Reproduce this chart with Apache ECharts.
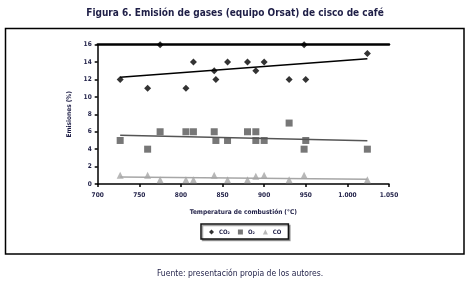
<!DOCTYPE html>
<html>
<head>
<meta charset="utf-8">
<script src="https://cdn.jsdelivr.net/npm/echarts@6/dist/echarts.min.js"></script>
<style>
  html, body { margin: 0; padding: 0; background: #fff; }
  #chart { width: 470px; height: 281px; }
</style>
</head>
<body>
<div id="chart"></div>
<script>
// puntos medidos (temperatura °C, %)
const co2Data = [[727, 12], [760, 11], [775, 16], [806, 11], [815, 14], [840, 13], [842, 12],
  [856, 14], [880, 14], [890, 13], [900, 14], [930, 12], [948, 16], [950, 12], [1024, 15]]
const o2Data = [[727, 5], [760, 4], [775, 6], [806, 6], [815, 6], [840, 6], [842, 5],
  [856, 5], [880, 6], [890, 6], [890, 5], [900, 5], [930, 7], [948, 4], [950, 5], [1024, 4]]
const coData = [[727, 1], [760, 1], [775, 0.5], [806, 0.5], [815, 0.5], [840, 1], [856, 0.5],
  [880, 0.5], [890, 0.9], [900, 1], [930, 0.5], [948, 1], [1024, 0.5]]
// líneas de tendencia (extremos leídos)
const co2Trend = [[727, 12.25], [1024, 14.4]]
const o2Trend = [[727, 5.6], [1024, 4.97]]
const coTrend = [[727, 0.8], [1024, 0.55]]

const xTicks = { 700: '700', 750: '750', 800: '800', 850: '850', 900: '900', 950: '950', 1000: '1.000', 1050: '1.050' }

const font = "'DejaVu Sans Condensed', 'Liberation Sans Narrow', sans-serif"
const ink = '#1e1e46'
const chart = echarts.init(document.getElementById('chart'))

const option = {
  animation: false,
  textStyle: { fontFamily: font },
  title: [
    {
      text: 'Figura 6. Emisión de gases (equipo Orsat) de cisco de café',
      left: 'center',
      top: 3,
      textStyle: { fontFamily: font, fontSize: 10, fontWeight: 'bold', color: ink }
    },
    {
      text: 'Fuente: presentación propia de los autores.',
      left: 235,
      textAlign: 'center',
      top: 264,
      textStyle: { fontFamily: font, fontSize: 8.5, fontWeight: 'normal', color: ink }
    }
  ],
  graphic: [
    {
      type: 'rect',
      shape: { x: 5.5, y: 28.5, width: 458.5, height: 225.5 },
      style: { fill: 'none', stroke: '#000', lineWidth: 1.5 },
      silent: true
    }
  ],
  legend: {
    left: 201,
    top: 224,
    padding: [5, 7, 4, 8],
    itemGap: 8,
    itemWidth: 5,
    itemHeight: 5,
    borderColor: '#111',
    borderWidth: 1.5,
    shadowColor: 'rgba(0,0,0,0.35)',
    shadowOffsetX: 1.5,
    shadowOffsetY: 1.5,
    backgroundColor: '#fff',
    textStyle: { fontFamily: font, fontSize: 6, fontWeight: 'bold', color: ink },
    data: [
      { name: 'CO₂', icon: 'diamond' },
      { name: 'O₂', icon: 'rect' },
      { name: 'CO', icon: 'triangle' }
    ]
  },
  grid: { left: 97.7, right: 81, top: 44.7, bottom: 97 },
  xAxis: [
    {
      type: 'value',
      min: 700,
      max: 1050,
      interval: 50,
      name: 'Temperatura de combustión (°C)',
      nameLocation: 'middle',
      nameGap: 25,
      nameTextStyle: { fontFamily: font, fontSize: 6.5, fontWeight: 'bold', color: ink },
      axisLine: { lineStyle: { color: '#000', width: 1.5 } },
      axisTick: { inside: false, length: 3, lineStyle: { color: '#000', width: 1.5 } },
      axisLabel: {
        margin: 8,
        fontSize: 6.5,
        fontWeight: 'bold',
        color: ink,
        formatter: v => xTicks[v] || ''
      },
      splitLine: { show: false }
    },
    {
      type: 'value',
      position: 'top',
      min: 700,
      max: 1050,
      axisLine: { show: true, lineStyle: { color: '#000', width: 2.5 } },
      axisTick: { show: false },
      axisLabel: { show: false },
      splitLine: { show: false }
    }
  ],
  yAxis: {
    type: 'value',
    min: 0,
    max: 16,
    interval: 2,
    name: 'Emisiones (%)',
    nameLocation: 'middle',
    nameGap: 16,
    nameRotate: 90,
    nameTextStyle: { fontFamily: font, fontSize: 6.5, fontWeight: 'bold', color: ink },
    axisLine: { show: true, lineStyle: { color: '#000', width: 1.5 } },
    axisTick: { show: true, inside: false, length: 3, lineStyle: { color: '#000', width: 1.5 } },
    axisLabel: { margin: 6, fontSize: 6.5, fontWeight: 'bold', color: ink },
    splitLine: { show: false }
  },
  series: [
    {
      name: 'CO₂',
      type: 'scatter',
      symbol: 'diamond',
      symbolSize: 7,
      itemStyle: { color: '#000' },
      data: co2Data,
      z: 5
    },
    {
      name: 'O₂',
      type: 'scatter',
      symbol: 'rect',
      symbolSize: 7,
      itemStyle: { color: '#555' },
      data: o2Data,
      z: 5
    },
    {
      name: 'CO',
      type: 'scatter',
      symbol: 'triangle',
      symbolSize: 7,
      itemStyle: { color: '#a6a6a6' },
      data: coData,
      z: 5
    },
    {
      type: 'line',
      showSymbol: false,
      lineStyle: { color: '#000', width: 1.5 },
      data: co2Trend,
      z: 3
    },
    {
      type: 'line',
      showSymbol: false,
      lineStyle: { color: '#555', width: 1.5 },
      data: o2Trend,
      z: 3
    },
    {
      type: 'line',
      showSymbol: false,
      lineStyle: { color: '#a6a6a6', width: 1.5 },
      data: coTrend,
      z: 3
    }
  ]
}

chart.setOption(option)
</script>
</body>
</html>
